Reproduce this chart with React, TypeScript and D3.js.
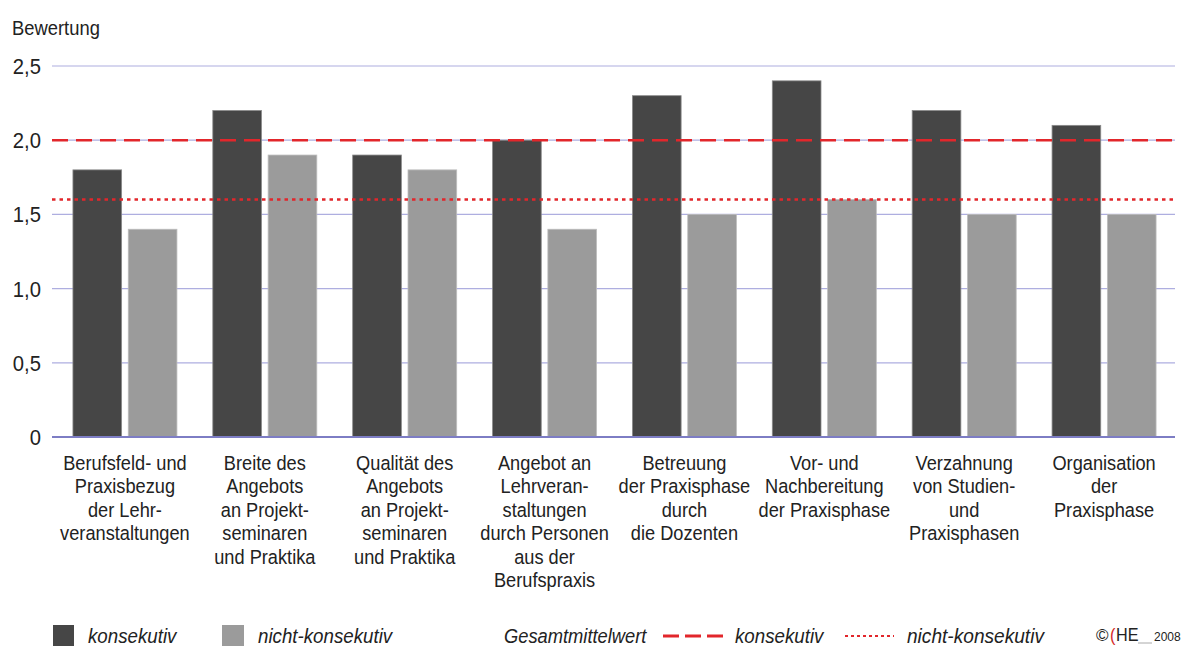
import React from "react";
import * as d3 from "d3";

// data
const categories = [
  "Berufsfeld- und|Praxisbezug|der Lehr-|veranstaltungen",
  "Breite des|Angebots|an Projekt-|seminaren|und Praktika",
  "Qualität des|Angebots|an Projekt-|seminaren|und Praktika",
  "Angebot an|Lehrveran-|staltungen|durch Personen|aus der|Berufspraxis",
  "Betreuung|der Praxisphase|durch|die Dozenten",
  "Vor- und|Nachbereitung|der Praxisphase",
  "Verzahnung|von Studien-|und|Praxisphasen",
  "Organisation|der|Praxisphase",
];
const konsekutiv = [1.8, 2.2, 1.9, 2.0, 2.3, 2.4, 2.2, 2.1];
const nichtKonsekutiv = [1.4, 1.9, 1.8, 1.4, 1.5, 1.6, 1.5, 1.5];
const meanKonsekutiv = 2.0;
const meanNichtKonsekutiv = 1.6;
const yTicks = [0, 0.5, 1.0, 1.5, 2.0, 2.5];

const W = 1200;
const H = 646;
const FONT = "'Liberation Sans', Arial, sans-serif";
const DARK = "#464646";
const LIGHT = "#9b9b9b";
const RED = "#e2262b";

// narrowed text, like the condensed face of the original
function CText(props: {
  x: number; y: number; size: number; sx?: number; anchor?: string; italic?: boolean; fill?: string; children: React.ReactNode;
}) {
  const { x, y, size, sx = 0.93, anchor = "start", italic, fill = "#222", children } = props;
  return (
    <g transform={`translate(${x},${y}) scale(${sx},1)`}>
      <text x={0} y={0} fontSize={size} textAnchor={anchor} fontStyle={italic ? "italic" : "normal"} fill={fill}>
        {children}
      </text>
    </g>
  );
}

export default function App() {
  const left = 52;
  const right = 1175;
  const y = d3.scaleLinear().domain([0, 2.5]).range([437, 66]);
  const x = d3.scaleBand().domain(categories.map((_, i) => String(i))).range([55, 1174]).padding(0);
  const inner = d3.scaleBand().domain(["k", "n"]).range([0, 104]).paddingInner(0.12);
  const fmt = (v: number) => (v === 0 ? "0" : d3.format(".1f")(v).replace(".", ","));

  return (
    <svg width={W} height={H} style={{ position: "absolute", left: 0, top: 0, background: "#fff" }} fontFamily={FONT}>
      <CText x={12} y={35} size={20} sx={0.92}>Bewertung</CText>

      {yTicks.map((t) => (
        <g key={t}>
          {t > 0 && <line x1={left} x2={right} y1={y(t)} y2={y(t)} stroke="#aeaee0" strokeWidth={1.2} />}
          <CText x={41} y={y(t) + 8} size={22} sx={0.92} anchor="end">{fmt(t)}</CText>
        </g>
      ))}

      {categories.map((c, i) => {
        const g0 = (x(String(i)) as number) + (x.bandwidth() - 104) / 2;
        return (
          <g key={c} transform={`translate(${g0},0)`}>
            <rect x={inner("k")} y={y(konsekutiv[i])} width={inner.bandwidth()} height={y(0) - y(konsekutiv[i])}
              fill={DARK} stroke="#8a8a8a" strokeWidth={0.8} />
            <rect x={inner("n")} y={y(nichtKonsekutiv[i])} width={inner.bandwidth()} height={y(0) - y(nichtKonsekutiv[i])}
              fill={LIGHT} stroke="#bdbdbd" strokeWidth={0.8} />
          </g>
        );
      })}

      <line x1={left} x2={right} y1={y(0)} y2={y(0)} stroke="#7d7dc4" strokeWidth={2} />

      <line x1={left} x2={right} y1={y(meanKonsekutiv)} y2={y(meanKonsekutiv)} stroke={RED} strokeWidth={2.5} strokeDasharray="16 8" />
      <line x1={left} x2={right} y1={y(meanNichtKonsekutiv)} y2={y(meanNichtKonsekutiv)} stroke={RED} strokeWidth={2.5} strokeDasharray="3.5 4" />

      {categories.map((c, i) => {
        const cx = (x(String(i)) as number) + x.bandwidth() / 2;
        return (
          <g key={c} transform={`translate(${cx},470) scale(0.935,1)`}>
            <text x={0} y={0} fontSize={19.5} textAnchor="middle" fill="#222">
              {c.split("|").map((ln, j) => (
                <tspan key={j} x={0} dy={j === 0 ? 0 : 23.4}>{ln}</tspan>
              ))}
            </text>
          </g>
        );
      })}

      <rect x={53} y={625} width={21} height={21} fill={DARK} />
      <CText x={88} y={643} size={19.5} sx={0.96} italic>konsekutiv</CText>
      <rect x={222} y={625} width={22} height={21} fill={LIGHT} />
      <CText x={258} y={643} size={19.5} sx={0.96} italic>nicht-konsekutiv</CText>
      <CText x={504} y={643} size={19.5} sx={0.94} italic>Gesamtmittelwert</CText>
      <line x1={663} x2={723} y1={636} y2={636} stroke={RED} strokeWidth={3} strokeDasharray="16 6" />
      <CText x={735} y={643} size={19.5} sx={0.96} italic>konsekutiv</CText>
      <line x1={845} x2={894} y1={636} y2={636} stroke={RED} strokeWidth={2} strokeDasharray="3 3" />
      <CText x={907} y={643} size={19.5} sx={0.98} italic>nicht-konsekutiv</CText>

      <CText x={1096} y={641} size={17} sx={1}>©</CText>
      <CText x={1110} y={641} size={18} sx={0.9} fill="#d42a2a">(</CText>
      <CText x={1116} y={641} size={18} sx={0.9}>HE</CText>
      <line x1={1138} x2={1152} y1={643} y2={643} stroke="#aaa" strokeWidth={1} />
      <CText x={1154} y={641} size={12} sx={1}>2008</CText>
    </svg>
  );
}
